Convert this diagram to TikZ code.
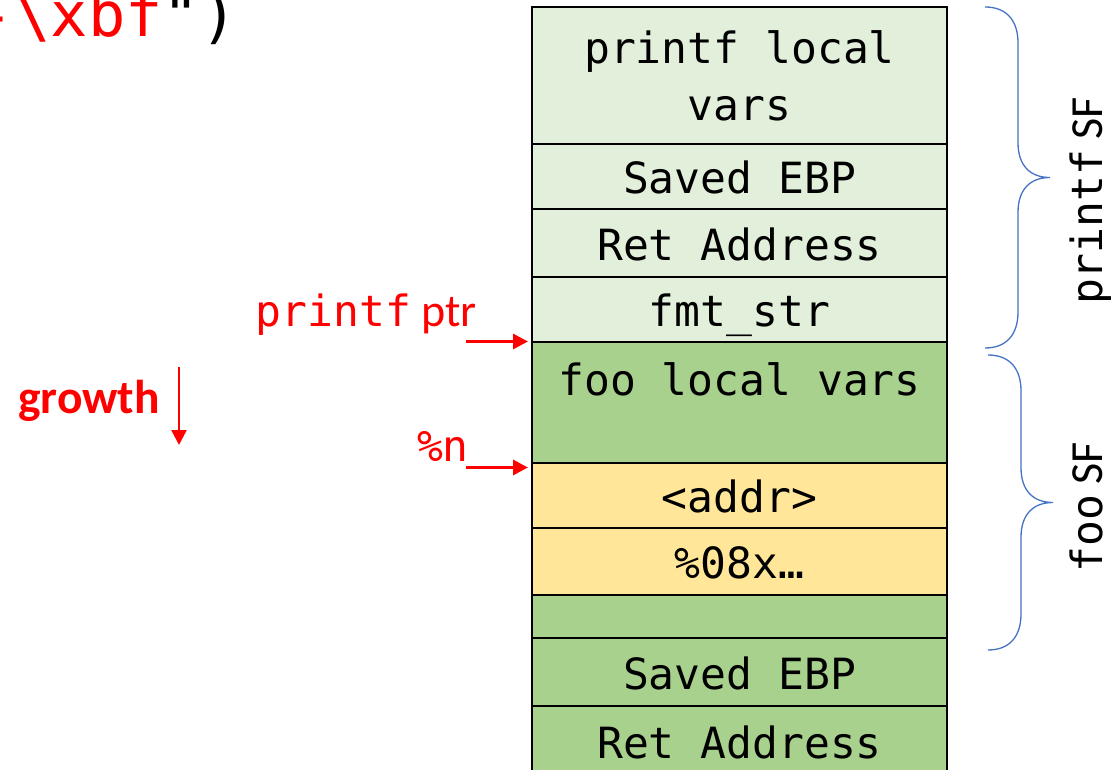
\documentclass[tikz,border=0pt]{standalone}
\usepackage{fontspec}
\setmainfont{Carlito}
\newfontfamily\mono{DejaVu Sans Mono}
\usetikzlibrary{arrows.meta,positioning}
\definecolor{pfc}{HTML}{E2EFDA}
\definecolor{fooc}{HTML}{A9D18E}
\definecolor{fmtc}{HTML}{FFE699}
\definecolor{bracec}{HTML}{4472C4}
\definecolor{redc}{HTML}{FF0000}
\newcommand{\mtt}{\mono\fontsize{43}{57}\selectfont}
\newcommand{\lbl}{\fontsize{46}{55}\selectfont}
\tikzset{
  cell/.style={draw=black, line width=2pt, outer sep=0pt, inner xsep=4pt, inner ysep=0pt,
    minimum width=415pt, font=\mtt, align=center, text height=34pt, text depth=0pt},
  pfcell/.style={cell, fill=pfc},
  foocell/.style={cell, fill=fooc},
  fmtcell/.style={cell, fill=fmtc},
  ptrarrow/.style={-{Triangle[length=15pt,width=15pt]}, line width=3pt, draw=redc},
  redlbl/.style={text=redc, inner sep=0pt},
  sfline/.style={draw=bracec, line width=1.3pt},
}
% curly brace: left x, top y, bottom y
\newcommand{\curly}[3]{%
  \draw[sfline] (#1,#2) .. controls ({#1+22},#2) and ({#1+33},{#2+14}) .. ({#1+33},{#2+36})
    -- ({#1+33},{(#2+#3)/2-35}) .. controls ({#1+33},{(#2+#3)/2-12}) and ({#1+45},{(#2+#3)/2}) .. ({#1+65},{(#2+#3)/2})
    .. controls ({#1+45},{(#2+#3)/2}) and ({#1+33},{(#2+#3)/2+12}) .. ({#1+33},{(#2+#3)/2+35})
    -- ({#1+33},{#3-36}) .. controls ({#1+33},{#3-14}) and ({#1+22},#3) .. (#1,#3);}

\begin{document}
\begin{tikzpicture}[x=1pt,y=-1pt]
  \useasboundingbox (0,0) rectangle (1114,770);

  % stack
  \node[pfcell, minimum height=136.5pt, anchor=north west, text height={}, text depth={}] (pfvars) at (532,7.5) {printf local\\vars};
  \node[pfcell, minimum height=65.5pt, below=0pt of pfvars] (pfebp) {Saved EBP};
  \node[pfcell, minimum height=67.5pt, below=0pt of pfebp] (pfret) {Ret Address};
  \node[pfcell, minimum height=64.5pt, below=0pt of pfret] (fmtstr) {fmt\_str};
  \node[foocell, minimum height=121pt, text height=54pt, text depth=67pt, below=0pt of fmtstr] (foovars) {foo local vars};
  \node[fmtcell, minimum height=65.5pt, below=0pt of foovars] (addr) {<addr>};
  \node[fmtcell, minimum height=66.5pt, below=0pt of addr] (fmtx) {\%08x…};
  \node[foocell, minimum height=43.5pt, below=0pt of fmtx] (foopad) {};
  \node[foocell, minimum height=68pt, below=0pt of foopad] (fooebp) {Saved EBP};
  \node[foocell, minimum height=70pt, below=0pt of fooebp] (fooret) {Ret Address};

  % format string tail
  \node[inner sep=0pt, anchor=base west, font=\mono\fontsize{62}{70}\selectfont] (fmttail) at (-24,37)
    {\textcolor{redc}{-\textbackslash xbf}")};

  % pointers
  \node[redlbl, anchor=base east, font=\lbl] (pflbl) at (477,326) {{\mtt printf} ptr};
  \node[redlbl, anchor=base east, font=\mtt] (nlbl) at (469,461) {\%n};
  \coordinate (pftail) at (466,341.5);
  \coordinate (ntail) at (466,467.5);
  \draw[ptrarrow, shorten >=4pt] (pftail) -- (foovars.north west);
  \draw[ptrarrow, shorten >=4pt] (ntail) -- ([yshift=-5pt]addr.north west);

  % growth
  \node[redlbl, anchor=base west, font=\fontsize{47.5}{56}\selectfont\bfseries] (growlbl) at (18,413) {growth};
  \coordinate (growtop) at (179,367);
  \coordinate (growbot) at (179,445);
  \draw[ptrarrow, line width=2.4pt] (growtop) -- (growbot);

  % frames
  \curly{985}{7}{348}
  \curly{988}{355}{650}
  \node[rotate=90, anchor=base, inner sep=0pt, font=\lbl] (pfsf) at (1102,201) {{\mtt printf} SF};
  \node[rotate=90, anchor=base, inner sep=0pt, font=\lbl] (foosf) at (1102,507.5) {{\mtt foo} SF};
\end{tikzpicture}
\end{document}
